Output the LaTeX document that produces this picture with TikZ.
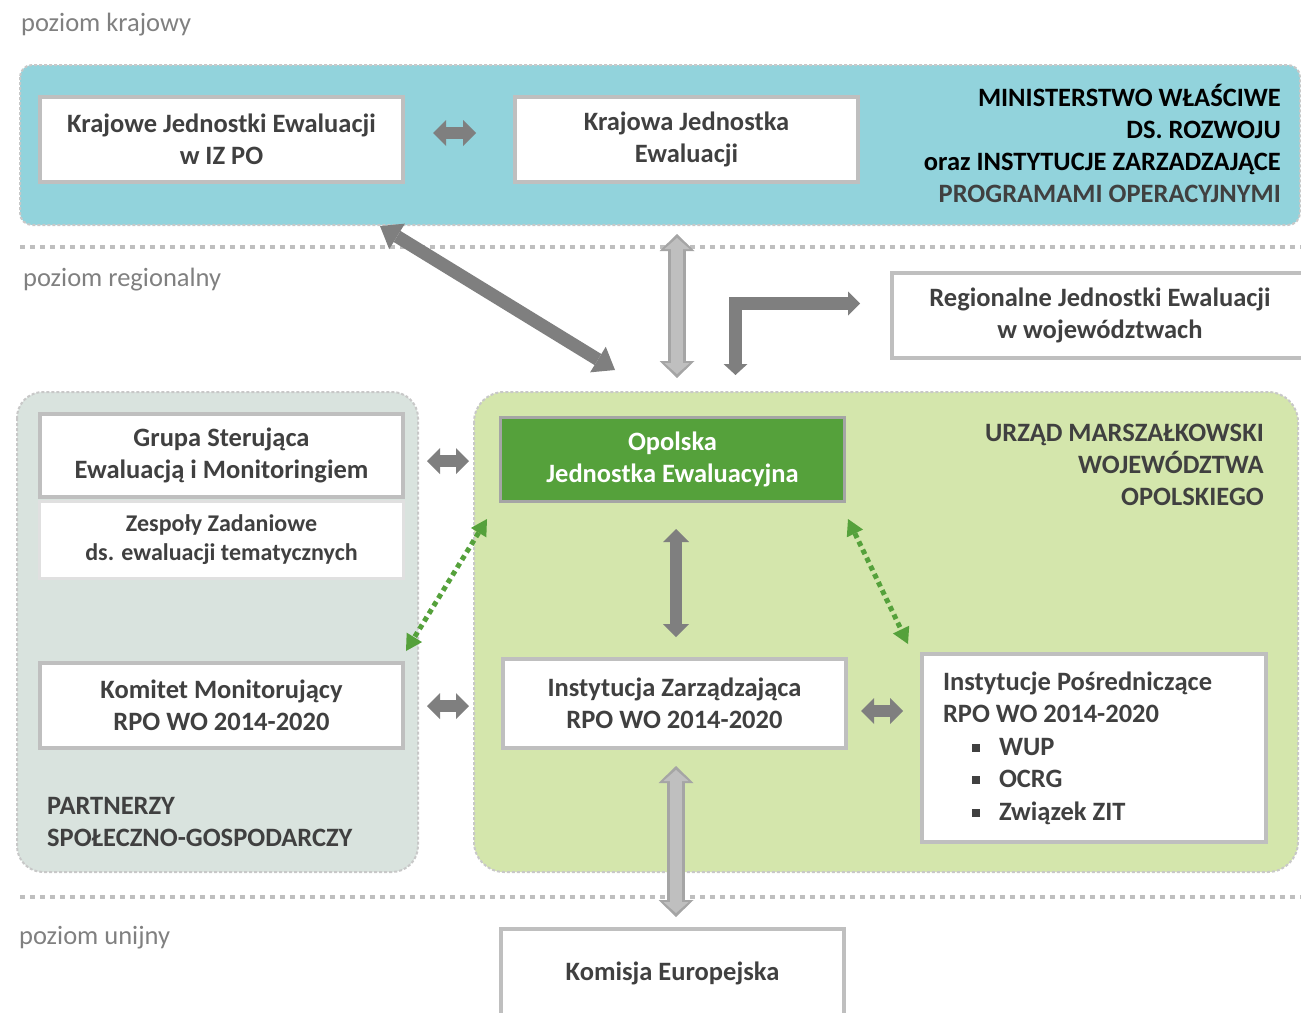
\documentclass[tikz,border=0pt]{standalone}
\usepackage{fontspec}
\setmainfont{Carlito}
\usetikzlibrary{arrows.meta}
\definecolor{boxgray}{HTML}{BFBFBF}
\definecolor{txt}{HTML}{404040}
\definecolor{lvlgray}{HTML}{808080}
\definecolor{bluereg}{HTML}{92D3DC}
\definecolor{leftreg}{HTML}{D9E3DE}
\definecolor{greenreg}{HTML}{D4E6AC}
\definecolor{opolfill}{HTML}{55A13B}
\definecolor{arrgray}{HTML}{7F7F7F}
\definecolor{lgfill}{HTML}{BFBFBF}
\definecolor{lgborder}{HTML}{A5A5A5}
\definecolor{dotgreen}{HTML}{55A13B}
\definecolor{sepgray}{HTML}{BFBFBF}
\definecolor{regborder}{HTML}{C8C8C8}
\newcommand\sqb{\raisebox{3.5pt}{\rule{8pt}{8pt}}}
\begin{document}
\begin{tikzpicture}[x=1pt,y=-1pt,
  box/.style={draw=boxgray,line width=4pt,fill=white,text=txt,
    font=\bfseries\fontsize{26.5}{32.5}\selectfont,align=center,inner sep=0pt},
  region/.style={draw=regborder,line width=2pt,dash pattern=on 3pt off 2pt,rounded corners=#1},
  sep/.style={draw=sepgray,line width=4pt,dash pattern=on 5pt off 5pt},
  lvl/.style={text=lvlgray,font=\fontsize{26.5}{30}\selectfont,anchor=west,inner sep=0pt},
  title/.style={font=\bfseries\fontsize{26.5}{32}\selectfont,inner sep=0pt},
  garrow/.style={draw=arrgray,line width=12pt,
    arrows={Triangle[width=26pt,length=13pt,line width=0pt]-Triangle[width=26pt,length=13pt,line width=0pt]}},
  biggarrow/.style={draw=arrgray,line width=13pt,
    arrows={Triangle[width=30pt,length=20pt,line width=0pt]-Triangle[width=30pt,length=20pt,line width=0pt]}},
  bentarrow/.style={draw=arrgray,line width=13pt,line join=miter,
    arrows={Triangle[width=24pt,length=11pt,line width=0pt]-Triangle[width=24pt,length=12pt,line width=0pt]}},
  lgout/.style={draw=lgborder,line width=18pt,
    arrows={Triangle[width=35pt,length=17pt,line width=0pt]-Triangle[width=35pt,length=17pt,line width=0pt]}},
  lgin/.style={draw=lgfill,line width=12pt,shorten <=4pt,shorten >=4pt,
    arrows={Triangle[width=25pt,length=11pt,line width=0pt]-Triangle[width=25pt,length=11pt,line width=0pt]}},
  dgreen/.style={draw=dotgreen,line width=5pt,dash pattern=on 5pt off 4pt,
    arrows={Triangle[width=18pt,length=16pt,line width=0pt]-Triangle[width=18pt,length=16pt,line width=0pt]}}
]
\useasboundingbox (0,0) rectangle (1301,1012);

% regions
\draw[region=12pt,fill=bluereg] (20,65) rectangle (1300,225);
\draw[region=26pt,fill=leftreg] (17,392) rectangle (418,872);
\draw[region=30pt,fill=greenreg] (474,392) rectangle (1298,872);

% level separators
\draw[sep] (20,247) -- (1301,247);
\draw[sep] (20,897) -- (1301,897);

% level labels
\node[lvl] (lk) at (21,25) {poziom krajowy};
\node[lvl] (lr) at (23,280) {poziom regionalny};
\node[lvl] (lu) at (19,938) {poziom unijny};

% region titles
\node[title,anchor=east,align=right] (mini) at (1281,143)
  {MINISTERSTWO WŁAŚCIWE\\DS. ROZWOJU\\oraz INSTYTUCJE ZARZADZAJĄCE\\\textcolor{txt}{PROGRAMAMI OPERACYJNYMI}};
\node[title,anchor=east,align=right,text=txt] (urz) at (1264,465)
  {URZĄD MARSZAŁKOWSKI\\WOJEWÓDZTWA\\OPOLSKIEGO};
\node[title,anchor=west,align=left,text=txt] (partn) at (47,822)
  {PARTNERZY\\SPOŁECZNO-GOSPODARCZY};

% boxes
\node[box,minimum width=363pt,minimum height=85pt] (kje) at (221.5,139.5)
  {Krajowe Jednostki Ewaluacji\\w IZ PO};
\node[box,minimum width=343pt,minimum height=85pt] (kraj) at (686.5,139.5)
  {Krajowa Jednostka\\Ewaluacji};
\node[box,minimum width=416pt,minimum height=85pt] (reg) at (1100,315.5)
  {Regionalne Jednostki Ewaluacji\\w województwach};
\node[box,draw=white!88!black,line width=3pt,minimum width=364pt,minimum height=77pt,
  font=\bfseries\fontsize{24}{29}\selectfont] (zesp) at (221.5,540)
  {Zespoły Zadaniowe\\ds. ewaluacji tematycznych};
\node[box,minimum width=363pt,minimum height=83pt] (grupa) at (221.5,455.5)
  {Grupa Sterująca\\Ewaluacją i Monitoringiem};
\node[box,minimum width=363pt,minimum height=85pt] (kom) at (221.5,705.5)
  {Komitet Monitorujący\\RPO WO 2014-2020};
\node[box,draw=lgborder,line width=3pt,fill=opolfill,text=white,
  minimum width=344pt,minimum height=84pt] (opol) at (672.5,459.5)
  {Opolska\\Jednostka Ewaluacyjna};
\node[box,minimum width=343pt,minimum height=89pt] (iz) at (674.5,703.5)
  {Instytucja Zarządzająca\\RPO WO 2014-2020};
\node[box,minimum width=344pt,minimum height=188pt,align=flush left,text width=302pt,inner xsep=21pt] (ip) at (1094,748)
  {Instytucje Pośredniczące\\RPO WO 2014-2020\\
   \hspace*{29pt}\sqb\hspace{19pt}WUP\\
   \hspace*{29pt}\sqb\hspace{19pt}OCRG\\
   \hspace*{29pt}\sqb\hspace{19pt}Związek ZIT};
\node[box,minimum width=343pt,minimum height=89pt] (ke) at (672.5,973.5)
  {Komisja Europejska};

% connectors
\draw[garrow] ([xshift=28pt,yshift=6.5pt]kje.east) -- ([xshift=-37pt,yshift=6.5pt]kraj.west);
\draw[biggarrow] ([xshift=-25pt,yshift=-42pt]kje.south east) -- ([xshift=-57.5pt,yshift=46pt]opol.north);
\draw[lgout] ([xshift=-9.5pt,yshift=-50pt]kraj.south) -- ([xshift=4.5pt,yshift=38pt]opol.north);
\draw[lgin] ([xshift=-9.5pt,yshift=-50pt]kraj.south) -- ([xshift=4.5pt,yshift=38pt]opol.north);
\draw[bentarrow] ([xshift=63pt,yshift=41pt]opol.north) |- ([xshift=-30pt,yshift=12pt]reg.west);
\draw[garrow] ([xshift=22pt,yshift=-5.5pt]grupa.east) -- ([xshift=-30pt,yshift=-1.5pt]opol.west);
\draw[dgreen] ([xshift=-12pt,yshift=-16pt]opol.south west) -- ([xshift=1pt,yshift=10pt]kom.north east);
\draw[dgreen] ([xshift=2pt,yshift=-16pt]opol.south east) -- ([xshift=-12pt,yshift=8pt]ip.north west);
\draw[garrow] ([xshift=3.5pt,yshift=-26pt]opol.south) -- ([xshift=1.5pt,yshift=20pt]iz.north);
\draw[garrow] ([xshift=22pt,yshift=-0.5pt]kom.east) -- ([xshift=-32pt,yshift=-2.5pt]iz.west);
\draw[garrow] ([xshift=13pt,yshift=-7.5pt]iz.east) -- ([xshift=-17pt,yshift=37pt]ip.west);
\draw[lgout] ([xshift=1.5pt,yshift=-16pt]iz.south) -- ([xshift=3.5pt,yshift=10pt]ke.north);
\draw[lgin] ([xshift=1.5pt,yshift=-16pt]iz.south) -- ([xshift=3.5pt,yshift=10pt]ke.north);
\end{tikzpicture}
\end{document}
